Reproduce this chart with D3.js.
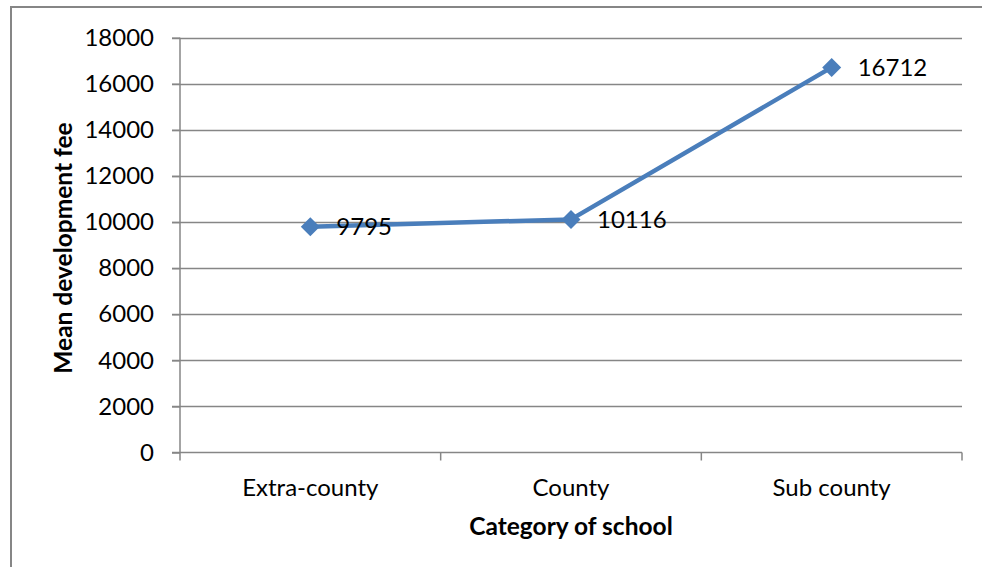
<!DOCTYPE html>
<html>
<head>
<meta charset="utf-8">
<script src="https://cdn.jsdelivr.net/npm/d3@7"></script>
<style>
  html, body { margin: 0; padding: 0; background: #fff; }
  svg { display: block; }
</style>
</head>
<body>
<svg id="chart" width="982" height="567"></svg>
<script>
// Mean development fee by school category
const categories = ["Extra-county", "County", "Sub county"];
const meanFees = [9795, 10116, 16712];
const yTicks = [0, 2000, 4000, 6000, 8000, 10000, 12000, 14000, 16000, 18000];

const svg = d3.select("#chart");
const W = 982, H = 567;
const font = "Lato, 'Open Sans', sans-serif";
const gridColor = "#868686";
const lineColor = "#4a7ebb";

// outer chart frame (extends past the visible area on the right/bottom)
svg.append("rect")
  .attr("x", 11).attr("y", 7)
  .attr("width", W + 20).attr("height", H + 20)
  .attr("fill", "none").attr("stroke", gridColor).attr("stroke-width", 2);

const plot = { left: 180, right: 962, top: 37.7, bottom: 452.5 };

const x = d3.scaleBand().domain(categories).range([plot.left, plot.right]).padding(0);
const y = d3.scaleLinear().domain([0, 18000]).range([plot.bottom, plot.top]);

// horizontal gridlines
svg.append("g").selectAll("line").data(yTicks.filter(d => d > 0)).join("line")
  .attr("x1", plot.left - 8).attr("x2", plot.right)
  .attr("y1", d => Math.round(y(d)) + 0.5).attr("y2", d => Math.round(y(d)) + 0.5)
  .attr("stroke", gridColor).attr("stroke-width", 1.5);

// y axis
const yAxis = svg.append("g")
  .attr("transform", `translate(${plot.left},0)`)
  .call(d3.axisLeft(y).tickValues(yTicks).tickSize(8).tickPadding(18).tickFormat(d3.format("d")));
yAxis.select(".domain").attr("stroke", gridColor).attr("stroke-width", 1.5).attr("d", `M0,${plot.top}V${plot.bottom}`);
yAxis.selectAll(".tick line").attr("stroke", gridColor).attr("stroke-width", 1.5);
yAxis.selectAll(".tick text").attr("fill", "#000").style("font-family", font).style("font-size", "24px");

// x axis with boundary ticks between categories
const xAxisG = svg.append("g").attr("transform", `translate(0,${plot.bottom})`);
xAxisG.append("line")
  .attr("x1", plot.left - 8).attr("x2", plot.right).attr("y1", 0).attr("y2", 0)
  .attr("stroke", gridColor).attr("stroke-width", 1.5);
const bounds = categories.map(c => x(c)).concat([x(categories[categories.length - 1]) + x.bandwidth()]);
xAxisG.selectAll("line.tk").data(bounds).join("line").attr("class", "tk")
  .attr("x1", d => d).attr("x2", d => d).attr("y1", 0).attr("y2", 8)
  .attr("stroke", gridColor).attr("stroke-width", 1.5);
xAxisG.selectAll("text").data(categories).join("text")
  .attr("x", d => x(d) + x.bandwidth() / 2).attr("y", 43)
  .attr("text-anchor", "middle")
  .style("font-family", font).style("font-size", "24px").attr("fill", "#000")
  .text(d => d);

// axis titles
svg.append("text")
  .attr("x", (plot.left + plot.right) / 2).attr("y", 535)
  .attr("text-anchor", "middle")
  .style("font-family", font).style("font-size", "24.5px").style("font-weight", "bold")
  .text("Category of school");
svg.append("text")
  .attr("transform", `translate(72,248) rotate(-90)`)
  .attr("text-anchor", "middle")
  .style("font-family", font).style("font-size", "24.5px").style("font-weight", "bold")
  .text("Mean development fee");

// series line
const cx = d => x(d) + x.bandwidth() / 2;
const line = d3.line().x((d, i) => cx(categories[i])).y(d => y(d));
svg.append("path").datum(meanFees)
  .attr("d", line).attr("fill", "none")
  .attr("stroke", lineColor).attr("stroke-width", 4.5).attr("stroke-linejoin", "round");

// diamond markers
const diamond = d3.symbol().type(d3.symbolDiamond2).size(230);
svg.append("g").selectAll("path").data(meanFees).join("path")
  .attr("transform", (d, i) => `translate(${cx(categories[i])},${y(d)})`)
  .attr("d", diamond).attr("fill", lineColor);

// value labels
svg.append("g").selectAll("text").data(meanFees).join("text")
  .attr("x", (d, i) => cx(categories[i]) + 26)
  .attr("y", d => y(d)).attr("dy", "0.36em")
  .style("font-family", font).style("font-size", "24px").attr("fill", "#000")
  .text(d => d);
</script>
</body>
</html>
